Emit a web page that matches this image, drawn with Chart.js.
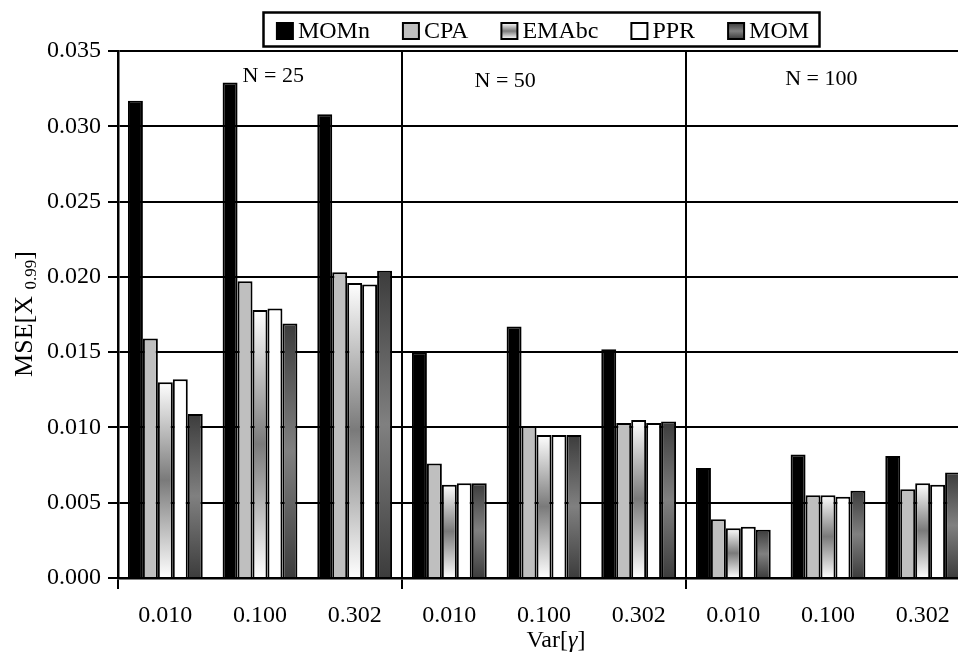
<!DOCTYPE html>
<html>
<head>
<meta charset="utf-8">
<script src="https://cdn.jsdelivr.net/npm/chart.js@4/dist/chart.umd.min.js"></script>
<style>
  html, body { margin: 0; padding: 0; background: #fff; overflow: hidden; width: 958px; height: 657px; }
  #wrap { position: relative; width: 980px; height: 657px; }
</style>
</head>
<body>
<div id="wrap"><canvas id="c" width="980" height="657"></canvas></div>
<script>
// Var[gamma] levels, repeated for each sample size N
const categories = ['0.010', '0.100', '0.302', '0.010', '0.100', '0.302', '0.010', '0.100', '0.302'];
const groupLabels = ['N = 25', 'N = 50', 'N = 100'];
const seriesNames = ['MOMn', 'CPA', 'EMAbc', 'PPR', 'MOM'];

// MSE of the 0.99 quantile estimate
const momn  = [0.0317, 0.0329, 0.0308, 0.0150, 0.0167, 0.0152, 0.0073, 0.0082, 0.0081];
const cpa   = [0.0159, 0.0197, 0.0203, 0.0076, 0.0101, 0.0103, 0.0039, 0.0055, 0.0059];
const emabc = [0.0130, 0.0178, 0.0196, 0.0062, 0.0095, 0.0105, 0.0033, 0.0055, 0.0063];
const ppr   = [0.0132, 0.0179, 0.0195, 0.0063, 0.0095, 0.0103, 0.0034, 0.0054, 0.0062];
const mom   = [0.0109, 0.0169, 0.0204, 0.0063, 0.0095, 0.0104, 0.0032, 0.0058, 0.0070];

const yTickValues = [0, 0.005, 0.010, 0.015, 0.020, 0.025, 0.030, 0.035];
const yTickLabels = ['0.000', '0.005', '0.010', '0.015', '0.020', '0.025', '0.030', '0.035'];

const FONT = '"Liberation Serif", "Times New Roman", serif';
Chart.defaults.font.family = FONT;
Chart.defaults.font.size = 24;
Chart.defaults.color = '#000';

// fill styles: flat colours or vertical gradients spanning each bar
const fills = {
  MOMn:  { flat: '#000000' },
  CPA:   { flat: '#bfbfbf' },
  EMAbc: { flat: '#9a9a9a', stops: [[0, '#ffffff'], [0.5, '#7a7a7a'], [1, '#ffffff']] },
  PPR:   { flat: '#ffffff' },
  MOM:   { flat: '#555555', stops: [[0, '#3c3c3c'], [0.5, '#808080'], [1, '#3c3c3c']] }
};

function paint(ctx2d, name, top, bottom) {
  const f = fills[name];
  if (!f.stops) return f.flat;
  const g = ctx2d.createLinearGradient(0, top, 0, bottom);
  f.stops.forEach(([o, col]) => g.addColorStop(o, col));
  return g;
}

function barFill(name) {
  return (context) => {
    const chart = context.chart;
    const ys = chart.scales && chart.scales.y;
    if (context.type !== 'data' || !ys || !context.parsed) return fills[name].flat;
    const top = ys.getPixelForValue(context.parsed.y);
    const base = ys.getPixelForValue(0);
    if (!isFinite(top) || !isFinite(base) || base - top < 1) return fills[name].flat;
    return paint(chart.ctx, name, top, base);
  };
}

const seriesData = [momn, cpa, emabc, ppr, mom];

// captions, legend box and axis titles with mixed styles
const annotations = {
  id: 'annotations',
  afterDraw(chart) {
    const c = chart.ctx;
    const xs = chart.scales.x, ys = chart.scales.y;
    c.save();
    c.fillStyle = '#000';
    c.strokeStyle = '#000';

    // sample-size captions inside each panel
    c.font = '22px ' + FONT;
    c.textAlign = 'center';
    c.textBaseline = 'middle';
    const capAt = [[1.14, 0.0333], [3.59, 0.0330], [6.93, 0.0331]];
    groupLabels.forEach((t, i) => {
      c.fillText(t, xs.getPixelForValue(capAt[i][0]), ys.getPixelForValue(capAt[i][1]));
    });

    // legend
    c.font = '24px ' + FONT;
    c.textAlign = 'left';
    const sq = 16, gapT = 5, gapI = 33;
    const widths = seriesNames.map(n => c.measureText(n).width);
    const total = widths.reduce((a, w) => a + sq + gapT + w, 0) + gapI * (seriesNames.length - 1);
    const cy = 31;
    let x = 543 - total / 2;
    c.lineWidth = 2.5;
    c.strokeRect(Math.round(x - 14) + 0.5, 12.5, Math.round(total + 24), 34);
    seriesNames.forEach((n, i) => {
      const top = cy - sq / 2;
      c.fillStyle = paint(c, n, top, top + sq);
      c.fillRect(x, top, sq, sq);
      c.lineWidth = 2;
      c.strokeRect(x, top, sq, sq);
      c.fillStyle = '#000';
      c.textBaseline = 'middle';
      c.fillText(n, x + sq + gapT, cy + 1);
      x += sq + gapT + widths[i] + gapI;
    });

    // x-axis title: Var[γ] with italic gamma
    c.textBaseline = 'alphabetic';
    const xParts = [['Var[', '24px ' + FONT], ['\u03B3', 'italic 24px ' + FONT], [']', '24px ' + FONT]];
    let wx = 0;
    xParts.forEach(p => { c.font = p[1]; wx += c.measureText(p[0]).width; });
    let px = 556 - wx / 2;
    xParts.forEach(p => { c.font = p[1]; c.fillText(p[0], px, 647); px += c.measureText(p[0]).width; });

    // y-axis title: MSE[X 0.99] with subscript
    c.translate(32, 314);
    c.rotate(-Math.PI / 2);
    const yParts = [['MSE[X', '26px ' + FONT, 0], [' ', '26px ' + FONT, 0], ['0.99', '17px ' + FONT, 4], [']', '26px ' + FONT, 0]];
    let wy = 0;
    yParts.forEach(p => { c.font = p[1]; wy += c.measureText(p[0]).width; });
    let py = -wy / 2;
    yParts.forEach(p => { c.font = p[1]; c.fillText(p[0], py, p[2]); py += c.measureText(p[0]).width; });

    c.restore();
  }
};

new Chart(document.getElementById('c'), {
  type: 'bar',
  data: {
    labels: categories,
    datasets: seriesNames.map((n, i) => ({
      label: n,
      data: seriesData[i],
      backgroundColor: barFill(n),
      borderColor: '#000',
      borderWidth: 2,
      categoryPercentage: 0.79,
      barPercentage: 1.0
    }))
  },
  options: {
    responsive: false,
    animation: false,
    devicePixelRatio: 1,
    layout: { padding: { top: 51, right: 10, left: 0, bottom: 0 } },
    plugins: { legend: { display: false }, tooltip: { enabled: false } },
    scales: {
      x: {
        offset: true,
        grid: {
          offset: true,
          lineWidth: 2,
          tickLength: 11,
          color: (ctx) => (ctx.index === undefined || ctx.index % 3 === 0) ? '#000' : 'rgba(0,0,0,0)'
        },
        border: { display: true, color: '#000', width: 2.5 },
        ticks: { autoSkip: false, maxRotation: 0, padding: 12, color: '#000', font: { size: 24 } },
        afterFit(s) { s.height = 79; }
      },
      y: {
        min: 0,
        max: 0.035,
        afterBuildTicks(s) { s.ticks = yTickValues.map(v => ({ value: v })); },
        grid: { color: '#000', lineWidth: 2, tickLength: 10 },
        border: { display: true, color: '#000', width: 2.5 },
        ticks: { padding: 7, color: '#000', font: { size: 24 }, callback: (v, i) => yTickLabels[i] },
        afterFit(s) { s.width = 118; }
      }
    }
  },
  plugins: [annotations]
});
</script>
</body>
</html>
